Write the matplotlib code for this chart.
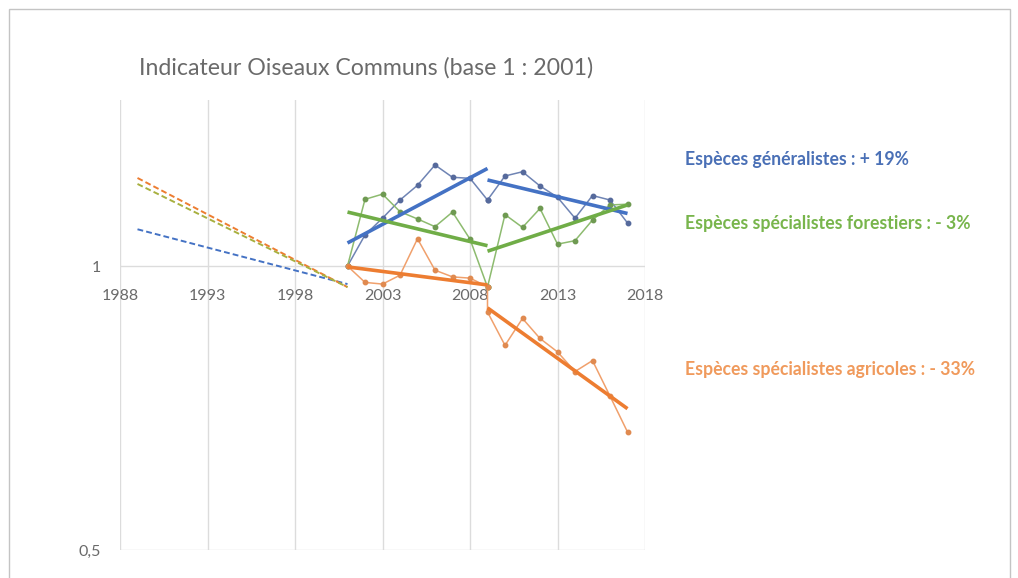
import matplotlib
matplotlib.use("Agg")
import matplotlib.pyplot as plt
from matplotlib.patches import Rectangle

# --- data -------------------------------------------------------------
years_p1 = list(range(2001, 2010))
years_p2 = list(range(2009, 2018))

generalistes_p1 = [1.0, 1.079, 1.124, 1.175, 1.218, 1.280, 1.242, 1.239, 1.175]
generalistes_p2 = [1.175, 1.246, 1.259, 1.216, 1.183, 1.124, 1.188, 1.175, 1.111]
forestiers_p1 = [1.0, 1.177, 1.192, 1.142, 1.122, 1.101, 1.141, 1.068, 0.950]
forestiers_p2 = [0.950, 1.134, 1.099, 1.151, 1.055, 1.064, 1.119, 1.161, 1.163]
agricoles_p1 = [1.0, 0.961, 0.957, 0.978, 1.069, 0.990, 0.974, 0.971, 0.951]
agricoles_p2 = [0.894, 0.824, 0.880, 0.838, 0.811, 0.773, 0.794, 0.728, 0.667]

# trend segments (start, end)
trend_p1_years = [2001, 2009]
trend_p2_years = [2009, 2017]
generalistes_trend_p1 = [1.058, 1.269]
generalistes_trend_p2 = [1.234, 1.137]
forestiers_trend_p1 = [1.141, 1.051]
forestiers_trend_p2 = [1.037, 1.161]
agricoles_trend_p1 = [0.998, 0.955]
agricoles_trend_p2 = [0.903, 0.706]

# 1989 -> 2001 back projections
back_years = [1989, 2001]
generalistes_back = [1.094, 0.957]
forestiers_back = [1.222, 0.950]
agricoles_back = [1.240, 0.950]

x_ticks = [1988, 1993, 1998, 2003, 2008, 2013, 2018]
y_ticks = [0.5, 1]
y_tick_labels = ["0,5", "1"]

title = "Indicateur Oiseaux Communs (base 1 : 2001)"
labels = [
    "Espèces généralistes : + 19%",
    "Espèces spécialistes forestiers : - 3%",
    "Espèces spécialistes agricoles : - 33%",
]

# --- style ------------------------------------------------------------
BLUE, GREEN, ORANGE = "#4472C4", "#70AD47", "#ED7D31"
BLUE_T, GREEN_T, ORANGE_T = "#6f84b4", "#8dbb6f", "#f0a06c"
BLUE_M, GREEN_M, ORANGE_M = "#566a9c", "#6f9a52", "#e08a50"
LABEL_COLORS = ["#4a70b6", "#78b54c", "#f09a5c"]
GRID = "#dcdcdc"
TXT = "#6a6a6a"
FONT = "Lato"

W, H = 1018, 578
fig = plt.figure(figsize=(W / 100, H / 100), dpi=100)
fig.patch.set_facecolor("white")


def fx(px):
    return px / W


def fy(py):
    return 1 - py / H


# outer frame
fig.patches.append(Rectangle((fx(9), fy(590)), fx(1010) - fx(9), fy(9) - fy(590),
                             transform=fig.transFigure, fill=False,
                             edgecolor="#c4c4c4", linewidth=1.0))

ax = fig.add_axes([fx(120), fy(550), fx(645) - fx(120), fy(100) - fy(550)])
ax.set_yscale("log", base=2)
ax.set_ylim(0.5, 1.5)
ax.set_xlim(1988, 2018)
for s in ax.spines.values():
    s.set_visible(False)

ax.set_xticks(x_ticks)
ax.set_xticklabels([])
ax.set_yticks(y_ticks)
ax.set_yticklabels(y_tick_labels, fontfamily=FONT, fontsize=11.5, color=TXT)
ax.yaxis.set_minor_locator(matplotlib.ticker.NullLocator())
ax.tick_params(axis="both", length=0)
ax.tick_params(axis="y", pad=14)
ax.grid(True, color=GRID, linewidth=1.0)
ax.set_axisbelow(True)

# x labels sit under the horizontal axis crossing at 1
for yr in x_ticks:
    ax.annotate(str(yr), xy=(yr, 1), xytext=(0, -21.5), textcoords="offset points",
                ha="center", va="center", fontfamily=FONT, fontsize=11.5, color=TXT)

# dashed back projections
for vals, col in [(generalistes_back, BLUE), (agricoles_back, ORANGE), (forestiers_back, "#a8b040")]:
    ax.plot(back_years, vals, color=col, linewidth=1.4, linestyle=(0, (3, 1.6)), zorder=3)

# annual indices with markers
for p1, p2, col, mcol in [
    (generalistes_p1, generalistes_p2, BLUE_T, BLUE_M),
    (forestiers_p1, forestiers_p2, GREEN_T, GREEN_M),
    (agricoles_p1, agricoles_p2, ORANGE_T, ORANGE_M),
]:
    ax.plot(years_p1 + years_p2, p1 + p2, color=col, linewidth=1.1,
            marker="o", markersize=3.2, markerfacecolor=mcol, markeredgecolor=mcol, zorder=4)

# thick trend segments
for t1, t2, col in [
    (generalistes_trend_p1, generalistes_trend_p2, BLUE),
    (forestiers_trend_p1, forestiers_trend_p2, GREEN),
    (agricoles_trend_p1, agricoles_trend_p2, ORANGE),
]:
    ax.plot(trend_p1_years, t1, color=col, linewidth=2.6, solid_capstyle="butt", zorder=5)
    ax.plot(trend_p2_years, t2, color=col, linewidth=2.6, solid_capstyle="butt", zorder=5)

fig.text(fx(139), fy(68), title, ha="left", va="center", fontfamily=FONT,
         fontsize=16.7, color=TXT)

for text, col, ypx in zip(labels, LABEL_COLORS, [160, 223, 370]):
    fig.text(fx(685), fy(ypx), text, ha="left", va="center", fontfamily=FONT,
             fontsize=12.7, fontweight="bold", color=col)

fig.savefig("out.png", dpi=100)
